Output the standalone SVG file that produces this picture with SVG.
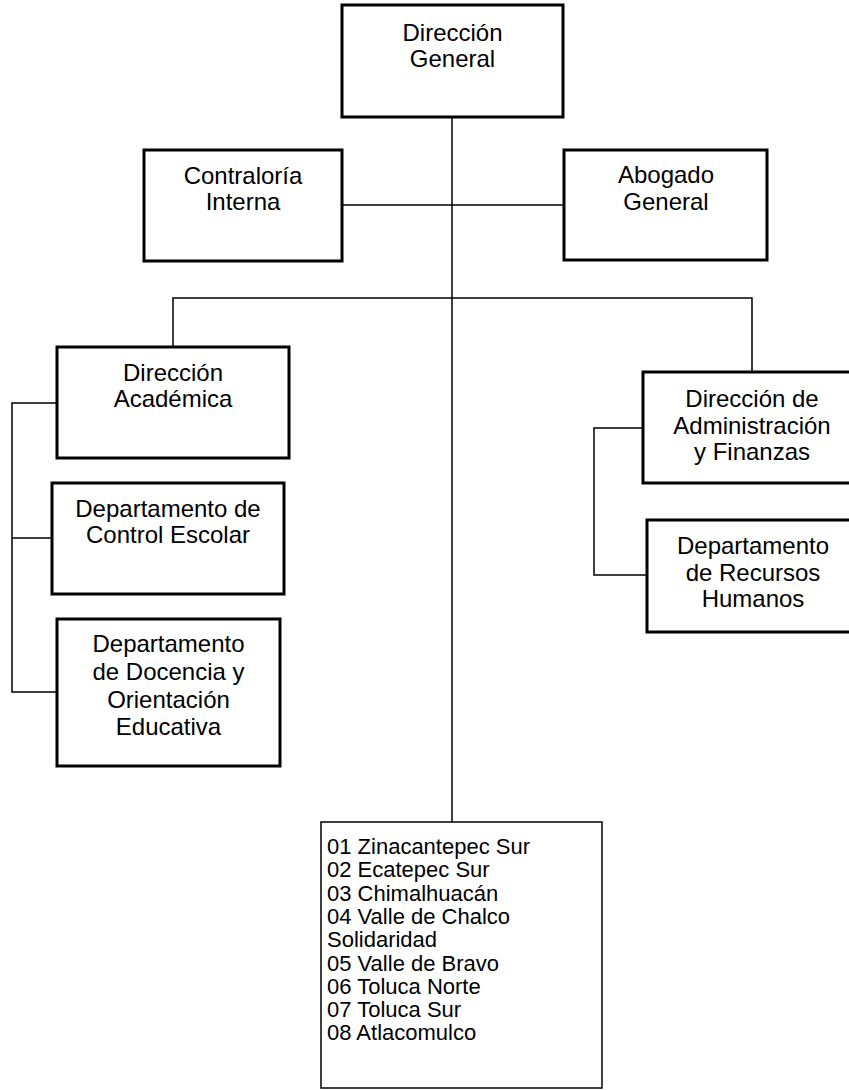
<svg xmlns="http://www.w3.org/2000/svg" width="849" height="1090" viewBox="0 0 849 1090">
  <style>
    .box { fill: #ffffff; stroke: #000000; stroke-width: 3; }
    .thin { stroke-width: 1.5; }
    .lbl { font-family: "Liberation Sans", Arial, sans-serif; font-size: 24px; fill: #000000; text-anchor: middle; }
    .lst { font-family: "Liberation Sans", Arial, sans-serif; font-size: 22px; fill: #000000; }
    .wire { fill: none; stroke: #000000; stroke-width: 1.5; }
  </style>
  <rect x="0" y="0" width="849" height="1090" fill="#ffffff"/>

  <!-- connectors -->
  <g id="connectors">
    <path class="wire" d="M452 117 V822"/>
    <path class="wire" d="M342 205 H564"/>
    <path class="wire" d="M173 347 V298 H752 V372"/>
    <path class="wire" d="M60 403 H12 V692 H57 M12 538 H52"/>
    <path class="wire" d="M643 428 H594 V575 H647"/>
  </g>

  <g id="direccion-general">
    <rect class="box" x="342" y="5" width="221" height="112"/>
    <text class="lbl" x="452.5" y="41">Dirección</text>
    <text class="lbl" x="452.5" y="67">General</text>
  </g>

  <g id="contraloria-interna">
    <rect class="box" x="144" y="150" width="198" height="111"/>
    <text class="lbl" x="243" y="184">Contraloría</text>
    <text class="lbl" x="243" y="210">Interna</text>
  </g>

  <g id="abogado-general">
    <rect class="box" x="564" y="150" width="203" height="110"/>
    <text class="lbl" x="666" y="183">Abogado</text>
    <text class="lbl" x="666" y="210">General</text>
  </g>

  <g id="direccion-academica">
    <rect class="box" x="57" y="347" width="232" height="111"/>
    <text class="lbl" x="173" y="381">Dirección</text>
    <text class="lbl" x="173" y="407">Académica</text>
  </g>

  <g id="control-escolar">
    <rect class="box" x="52" y="483" width="232" height="111"/>
    <text class="lbl" x="168" y="517">Departamento de</text>
    <text class="lbl" x="168" y="543">Control Escolar</text>
  </g>

  <g id="docencia-orientacion">
    <rect class="box" x="57" y="619" width="223" height="147"/>
    <text class="lbl" x="168.5" y="652">Departamento</text>
    <text class="lbl" x="168.5" y="680">de Docencia y</text>
    <text class="lbl" x="168.5" y="708">Orientación</text>
    <text class="lbl" x="168.5" y="735">Educativa</text>
  </g>

  <g id="administracion-finanzas">
    <rect class="box" x="643" y="372" width="220" height="111"/>
    <text class="lbl" x="752" y="407">Dirección de</text>
    <text class="lbl" x="752" y="434">Administración</text>
    <text class="lbl" x="752" y="460">y Finanzas</text>
  </g>

  <g id="recursos-humanos">
    <rect class="box" x="647" y="520" width="216" height="112"/>
    <text class="lbl" x="753" y="554">Departamento</text>
    <text class="lbl" x="753" y="581">de Recursos</text>
    <text class="lbl" x="753" y="607">Humanos</text>
  </g>

  <g id="planteles">
    <rect class="box thin" x="321" y="822" width="281" height="266"/>
    <text class="lst" x="327" y="854">01 Zinacantepec Sur</text>
    <text class="lst" x="327" y="877.3">02 Ecatepec Sur</text>
    <text class="lst" x="327" y="900.6">03 Chimalhuacán</text>
    <text class="lst" x="327" y="923.9">04 Valle de Chalco</text>
    <text class="lst" x="327" y="947.2">Solidaridad</text>
    <text class="lst" x="327" y="970.5">05 Valle de Bravo</text>
    <text class="lst" x="327" y="993.8">06 Toluca Norte</text>
    <text class="lst" x="327" y="1017.1">07 Toluca Sur</text>
    <text class="lst" x="327" y="1040.4">08 Atlacomulco</text>
  </g>
</svg>
